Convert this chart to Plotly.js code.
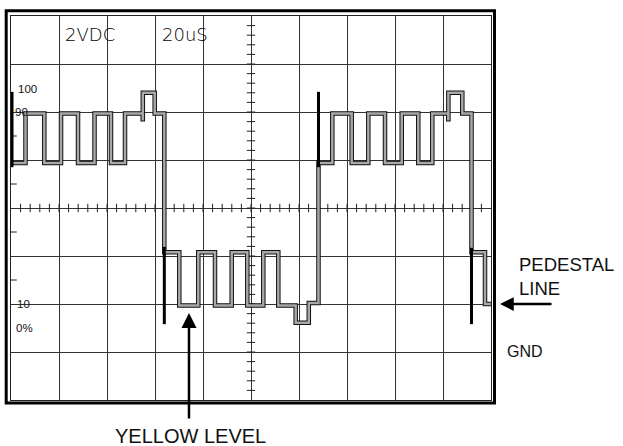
<!DOCTYPE html>
<html>
<head>
<meta charset="utf-8">
<script src="https://cdn.plot.ly/plotly-3.0.1.min.js"></script>
<style>html,body{margin:0;padding:0;background:#fff;}#chart{width:623px;height:446px;}</style>
</head>
<body>
<div id="chart"></div>
<script>
// Oscilloscope trace, units: graticule divisions (x: 20 uS/div, y: 2 V/div)
const traceTime  = [0.021, 0.302, 0.694, 1.042, 1.396, 1.740, 2.083, 2.375, 2.744, 2.746, 2.994, 3.194,
                    3.506, 3.902, 4.250, 4.598, 4.923, 5.256, 5.569, 5.931, 6.204, 6.406,
                    6.694, 7.098, 7.444, 7.792, 8.140, 8.485, 8.777, 9.110, 9.112, 9.402, 9.594,
                    9.875, 10.0];
const traceLevel = [4.94, 5.97, 4.94, 5.97, 4.94, 5.97, 4.94, 5.97, 5.85, 6.40, 5.97, 3.08,
                    1.97, 3.08, 1.97, 3.08, 1.97, 3.08, 1.97, 1.61, 2.02, 4.94,
                    5.97, 4.94, 5.97, 4.94, 5.97, 4.94, 5.97, 5.85, 6.40, 5.97, 3.08,
                    2.00, 2.00];
// sync edges (thick vertical bars)
const syncTime   = [0.021, 3.194, 6.406, 9.594];
const syncTop    = [6.42, 3.19, 6.42, 3.17];
const syncBottom = [4.85, 1.58, 4.85, 1.58];
// IRE scale labels at the left edge
const scaleLabels = ['100', '90', '10', '0%'];
const scaleLevels = [6.48, 5.99, 2.0, 1.5];
// left edge half-division ticks
const edgeTicks = [2.5, 3.5, 4.5, 5.5];

const sx = [], sy = [];
syncTime.forEach((t, i) => { sx.push(t, t, null); sy.push(syncTop[i], syncBottom[i], null); });

// graticule minor ticks on the centre cross
const hx = [], hy = [], vx = [], vy = [];
for (let k = 1; k < 50; k++) { hx.push(k * 0.2); hy.push(4); }
for (let k = 1; k < 40; k++) { vx.push(5); vy.push(k * 0.2); }

const tickMarker = (sym, size) => ({symbol: sym, size: size, color: '#222', line: {width: 1, color: '#222'}});
const traces = [
  {x: hx, y: hy, mode: 'markers', marker: tickMarker('line-ns-open', 6), hoverinfo: 'skip'},
  {x: vx, y: vy, mode: 'markers', marker: tickMarker('line-ew-open', 6), hoverinfo: 'skip'},
  {x: edgeTicks.map(() => 0.047), y: edgeTicks, mode: 'markers', marker: tickMarker('line-ew-open', 5), hoverinfo: 'skip'},
  {x: traceTime, y: traceLevel, mode: 'lines', line: {shape: 'hv', color: '#111', width: 4.5}, hoverinfo: 'skip'},
  {x: traceTime, y: traceLevel, mode: 'lines', line: {shape: 'hv', color: '#a8a8a8', width: 2.5}, hoverinfo: 'skip'},
  {x: sx, y: sy, mode: 'lines', line: {color: '#000', width: 3}, hoverinfo: 'skip'}
];

const lab = {family: 'Liberation Sans, Arial, sans-serif', color: '#111'};
const annotations = [
  {x: 1.09, y: 7.61, xref: 'x', yref: 'y', text: '2VDC', showarrow: false, xanchor: 'left', yanchor: 'middle',
   font: {family: 'DejaVu Sans', size: 18, weight: 200, color: '#000'}},
  {x: 3.10, y: 7.61, xref: 'x', yref: 'y', text: '20uS', showarrow: false, xanchor: 'left', yanchor: 'middle',
   font: {family: 'DejaVu Sans', size: 18, weight: 200, color: '#000'}},
  {x: 1.0535, y: 0.3225, xref: 'paper', yref: 'paper', text: 'PEDESTAL<br>LINE', showarrow: false, xanchor: 'left', yanchor: 'middle', align: 'left',
   font: Object.assign({size: 18.5}, lab)},
  {x: 1.029, y: 0.126, xref: 'paper', yref: 'paper', text: 'GND', showarrow: false, xanchor: 'left', yanchor: 'middle',
   font: Object.assign({size: 16}, lab)},
  {x: 0.373, y: -0.0925, xref: 'paper', yref: 'paper', text: 'YELLOW LEVEL', showarrow: false, xanchor: 'center', yanchor: 'middle',
   font: Object.assign({size: 20}, lab)},
  // arrows
  {x: 0.3708, y: 0.2266, xref: 'paper', yref: 'paper', text: '', showarrow: true, ax: 0, ay: 107,
   arrowhead: 2, arrowwidth: 2.5, arrowsize: 1.2, arrowcolor: '#000', standoff: 0},
  {x: 1.01875, y: 0.25, xref: 'paper', yref: 'paper', text: '', showarrow: true, ax: 53, ay: 0,
   arrowhead: 2, arrowwidth: 2.5, arrowsize: 1.1, arrowcolor: '#000', standoff: 0}
];
const scaleX = [0.104, 0.05, 0.083, 0.0625];
scaleLabels.forEach((t, i) => annotations.push({
  x: scaleX[i], y: scaleLevels[i], xref: 'x', yref: 'y', text: t, showarrow: false, xanchor: 'left', yanchor: 'middle',
  font: Object.assign({size: 11.5}, lab)
}));

const layout = {
  width: 623, height: 446,
  margin: {l: 11, r: 132, t: 16, b: 46},
  paper_bgcolor: '#fff', plot_bgcolor: '#fff',
  showlegend: false,
  xaxis: {range: [0, 10], dtick: 1, showgrid: true, gridcolor: '#333', gridwidth: 1, zeroline: false,
          showticklabels: false, ticks: '', showline: true, mirror: true, linecolor: '#222', linewidth: 1, fixedrange: true},
  yaxis: {range: [0, 8], dtick: 1, showgrid: true, gridcolor: '#333', gridwidth: 1, zeroline: false,
          showticklabels: false, ticks: '', showline: true, mirror: true, linecolor: '#222', linewidth: 1, fixedrange: true},
  shapes: [
    {type: 'line', xref: 'x', yref: 'y', x0: 0.01, x1: 0.5, y0: 2, y1: 2, line: {color: '#fff', width: 2}, layer: 'below'},
    {type: 'rect', xref: 'paper', yref: 'paper', x0: -0.01, x1: 1.0073, y0: -0.0078, y1: 1.0138,
     line: {color: '#000', width: 3}}
  ],
  annotations: annotations
};

Plotly.newPlot('chart', traces, layout, {staticPlot: true, displayModeBar: false});
</script>
</body>
</html>
